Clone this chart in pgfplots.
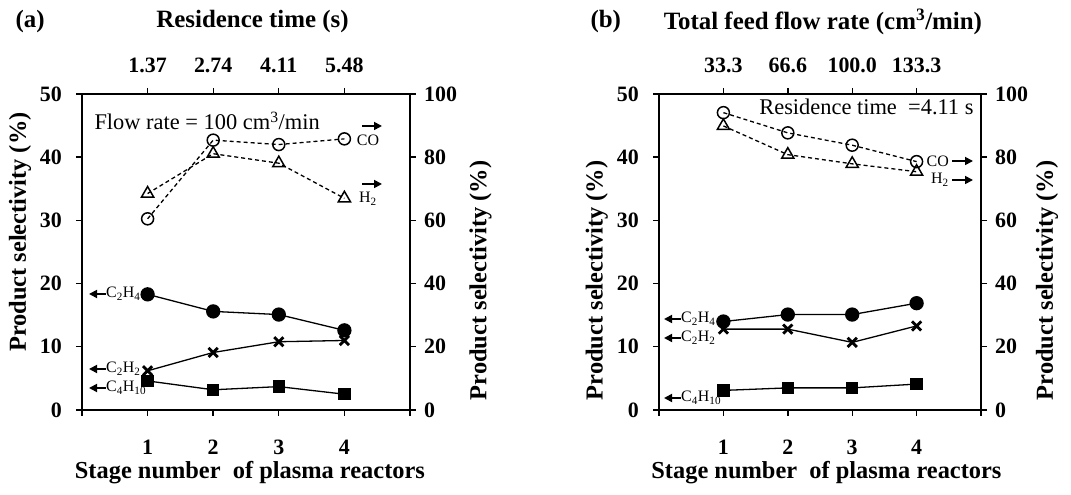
\documentclass[border=0pt]{standalone}
\usepackage{pgfplots}
\pgfplotsset{compat=1.18}
\usepackage{fontspec}
\setmainfont{Liberation Serif}
\usetikzlibrary{arrows.meta}

\newcommand{\tk}{\fontsize{22}{22}\selectfont\bfseries}
\newcommand{\lb}{\fontsize{24.5}{24.5}\selectfont\bfseries}
\newcommand{\ttl}{\fontsize{25}{25}\selectfont\bfseries}
\newcommand{\nt}{\fontsize{22.5}{22.5}\selectfont}
\newcommand{\sm}{\fontsize{16}{16}\selectfont}

\pgfplotsset{
  panel/.style={
    scale only axis, xmin=0, xmax=5,
    tick align=outside, major tick length=6bp,
    axis line style={line width=1.4bp},
    every tick/.style={black, line width=1.4bp},
    tick label style={font=\tk, inner sep=0pt},
    label style={font=\lb},
    /pgf/number format/assume math mode=true,
    clip=false,
  },
  solidser/.style={black, line width=1.3bp},
  dashser/.style={black, line width=1.3bp, dash pattern=on 4bp off 3bp},
  dot/.style={mark=*, mark size=6.5bp, mark options={solid, fill=black}},
  cross/.style={mark=x, mark size=6.5bp, mark options={solid, line width=2.8bp}},
  sq/.style={mark=square*, mark size=5.5bp, mark options={solid, fill=black}},
  ring/.style={mark=o, mark size=6bp, mark options={solid, line width=1.5bp, fill=white}},
  tri/.style={mark=triangle, mark size=7bp, mark options={solid, line width=1.5bp, fill=white}},
}

\begin{document}
\begin{tikzpicture}[>={Triangle[length=8bp,width=8bp]}]
\path[use as bounding box] (0,0) rectangle (1071bp,495bp);

% ---------------- panel (a) ----------------
\begin{axis}[panel,
  at={(82bp,85bp)}, anchor=south west,
  width=328bp, height=316bp,
  ymin=0, ymax=50,
  axis x line*=bottom, axis y line*=left,
  xtick={0,1,2,3,4,5}, xticklabels={,1,2,3,4,},
  ytick={0,10,20,30,40,50},
  xticklabel shift=24bp, yticklabel shift=14bp,
  xlabel={Stage number\ \ of plasma reactors},
  ylabel={Product selectivity (\%)},
  xlabel style={at={(axis description cs:0.512,-0.199)}, anchor=center},
  ylabel style={at={(axis description cs:-0.189,0.563)}, anchor=center},
]
\addplot[solidser, dot] coordinates {(1,18.3)(2,15.6)(3,15.1)(4,12.6)};
\addplot[solidser, cross] coordinates {(1,6.2)(2,9.1)(3,10.8)(4,11.0)};
\addplot[solidser, sq] coordinates {(1,4.6)(2,3.2)(3,3.7)(4,2.5)};
\end{axis}

\begin{axis}[panel,
  at={(82bp,85bp)}, anchor=south west,
  width=328bp, height=316bp,
  ymin=0, ymax=100,
  axis x line*=top, axis y line*=right,
  xtick={1,2,3,4}, xticklabels={1.37,2.74,4.11,5.48},
  ytick={0,20,40,60,80,100},
  xticklabel shift=15bp, yticklabel shift=8bp,
  xlabel={Residence time\ (s)},
  ylabel={Product selectivity (\%)},
  xlabel style={font=\ttl, at={(axis description cs:0.52,1.229)}, anchor=center},
  ylabel style={at={(axis description cs:1.215,0.41)}, anchor=center},
]
\addplot[dashser, ring] coordinates {(1,60.5)(2,85.4)(3,84.0)(4,85.8)};
\addplot[dashser, tri] coordinates {(1,68.5)(2,81.1)(3,78.1)(4,67.0)};
\end{axis}

\node[font=\ttl, anchor=west] at (12bp,473bp) {(a)};
\node[font=\nt, anchor=west] at (91bp,374bp) {Flow rate = 100 cm\textsuperscript{3}/min};
\draw[->, line width=1.7bp] (362bp,369bp) -- (382bp,369bp);
\node[font=\sm] at (368bp,355bp) {CO};
\draw[->, line width=1.7bp] (362bp,311bp) -- (382bp,311bp);
\node[font=\sm] at (368bp,296bp) {H\textsubscript{2}};
\draw[->, line width=1.7bp] (106bp,201bp) -- (89bp,201bp);
\node[font=\sm, anchor=west, inner sep=1bp] at (105bp,201bp) {C\textsubscript{2}H\textsubscript{4}};
\draw[->, line width=1.7bp] (106bp,126bp) -- (89bp,126bp);
\node[font=\sm, anchor=west, inner sep=1bp] at (105bp,126bp) {C\textsubscript{2}H\textsubscript{2}};
\draw[->, line width=1.7bp] (106bp,107bp) -- (89bp,107bp);
\node[font=\sm, anchor=west, inner sep=1bp] at (105bp,107bp) {C\textsubscript{4}H\textsubscript{10}};

% ---------------- panel (b) ----------------
\begin{axis}[panel,
  at={(659bp,85bp)}, anchor=south west,
  width=322bp, height=316bp,
  ymin=0, ymax=50,
  axis x line*=bottom, axis y line*=left,
  xtick={0,1,2,3,4,5}, xticklabels={,1,2,3,4,},
  ytick={0,10,20,30,40,50},
  xticklabel shift=24bp, yticklabel shift=14bp,
  xlabel={Stage number\ \ of plasma reactors},
  ylabel={Product selectivity (\%)},
  xlabel style={at={(axis description cs:0.52,-0.199)}, anchor=center},
  ylabel style={at={(axis description cs:-0.193,0.41)}, anchor=center},
]
\addplot[solidser, dot] coordinates {(1,14.0)(2,15.1)(3,15.1)(4,16.9)};
\addplot[solidser, cross] coordinates {(1,12.8)(2,12.8)(3,10.7)(4,13.3)};
\addplot[solidser, sq] coordinates {(1,3.1)(2,3.5)(3,3.5)(4,4.1)};
\end{axis}

\begin{axis}[panel,
  at={(659bp,85bp)}, anchor=south west,
  width=322bp, height=316bp,
  ymin=0, ymax=100,
  axis x line*=top, axis y line*=right,
  xtick={1,2,3,4}, xticklabels={33.3,66.6,100.0,133.3},
  ytick={0,20,40,60,80,100},
  xticklabel shift=15bp, yticklabel shift=8bp,
  xlabel={Total feed flow rate (cm\textsuperscript{3}/min)},
  ylabel={Product selectivity (\%)},
  xlabel style={font=\ttl, at={(axis description cs:0.509,1.229)}, anchor=center},
  ylabel style={at={(axis description cs:1.205,0.41)}, anchor=center},
]
\addplot[dashser, ring] coordinates {(1,94.1)(2,87.7)(3,83.8)(4,78.6)};
\addplot[dashser, tri] coordinates {(1,89.9)(2,80.8)(3,77.9)(4,75.4)};
\end{axis}

\node[font=\ttl, anchor=west] at (587bp,473bp) {(b)};
\node[font=\nt, anchor=east] at (977bp,388bp) {Residence time\ \ =4.11 s};
\node[font=\sm, anchor=east, inner sep=1bp] at (950bp,334bp) {CO};
\draw[->, line width=1.7bp] (952bp,334bp) -- (973bp,334bp);
\node[font=\sm, anchor=east, inner sep=1bp] at (950bp,315bp) {H\textsubscript{2}};
\draw[->, line width=1.7bp] (952bp,315bp) -- (973bp,315bp);
\draw[->, line width=1.7bp] (681bp,176bp) -- (664bp,176bp);
\node[font=\sm, anchor=west, inner sep=1bp] at (680bp,176bp) {C\textsubscript{2}H\textsubscript{4}};
\draw[->, line width=1.7bp] (681bp,157bp) -- (664bp,157bp);
\node[font=\sm, anchor=west, inner sep=1bp] at (680bp,157bp) {C\textsubscript{2}H\textsubscript{2}};
\draw[->, line width=1.7bp] (681bp,97bp) -- (664bp,97bp);
\node[font=\sm, anchor=west, inner sep=1bp] at (680bp,97bp) {C\textsubscript{4}H\textsubscript{10}};
\end{tikzpicture}
\end{document}
